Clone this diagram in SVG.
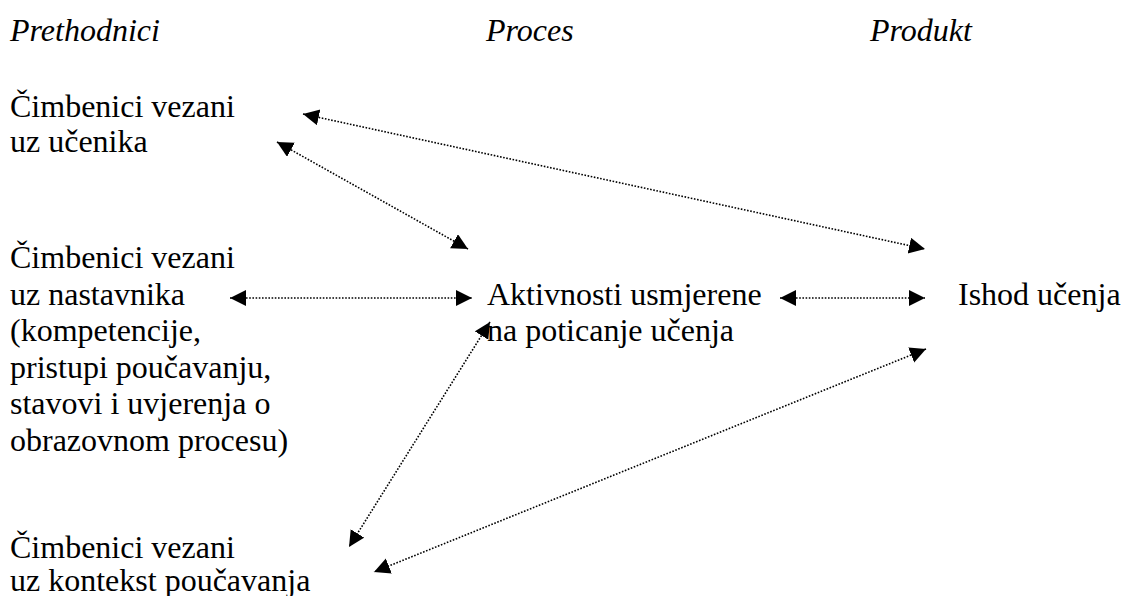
<svg xmlns="http://www.w3.org/2000/svg" width="1122" height="596" viewBox="0 0 1122 596">
<defs>
<marker id="ah" markerUnits="userSpaceOnUse" markerWidth="18" markerHeight="18" refX="16" refY="8" orient="auto-start-reverse" viewBox="0 0 18 18">
<path d="M0,0 L16,8 L0,16 z" fill="#000"/>
</marker>
</defs>
<rect width="1122" height="596" fill="#fff"/>
<g font-family="Liberation Serif" font-size="32" fill="#000">
<g id="headers" font-style="italic">
<text x="10" y="41">Prethodnici</text>
<text x="486" y="41">Proces</text>
<text x="870" y="41">Produkt</text>
</g>
<g id="ucenik">
<text x="10" y="117">Čimbenici vezani</text>
<text x="10" y="152">uz učenika</text>
</g>
<g id="nastavnik">
<text x="10" y="268">Čimbenici vezani</text>
<text x="10" y="305">uz nastavnika</text>
<text x="10" y="341">(kompetencije,</text>
<text x="10" y="378">pristupi poučavanju,</text>
<text x="10" y="414">stavovi i uvjerenja o</text>
<text x="10" y="451">obrazovnom procesu)</text>
</g>
<g id="kontekst">
<text x="10" y="558">Čimbenici vezani</text>
<text x="10" y="591">uz kontekst poučavanja</text>
</g>
<g id="aktivnosti">
<text x="487" y="305">Aktivnosti usmjerene</text>
<text x="487" y="341">na poticanje učenja</text>
</g>
<g id="ishod">
<text x="958" y="305">Ishod učenja</text>
</g>
</g>
<g id="connectors" stroke="#000" stroke-width="1.6" stroke-dasharray="1.6 1.6" fill="none" marker-start="url(#ah)" marker-end="url(#ah)">
<line x1="303" y1="114" x2="925" y2="249"/>
<line x1="277" y1="142" x2="468" y2="249"/>
<line x1="230" y1="298" x2="472" y2="298"/>
<line x1="780" y1="298" x2="925" y2="298"/>
<line x1="490" y1="322" x2="349" y2="547"/>
<line x1="926" y1="349" x2="374" y2="572"/>
</g>
</svg>
